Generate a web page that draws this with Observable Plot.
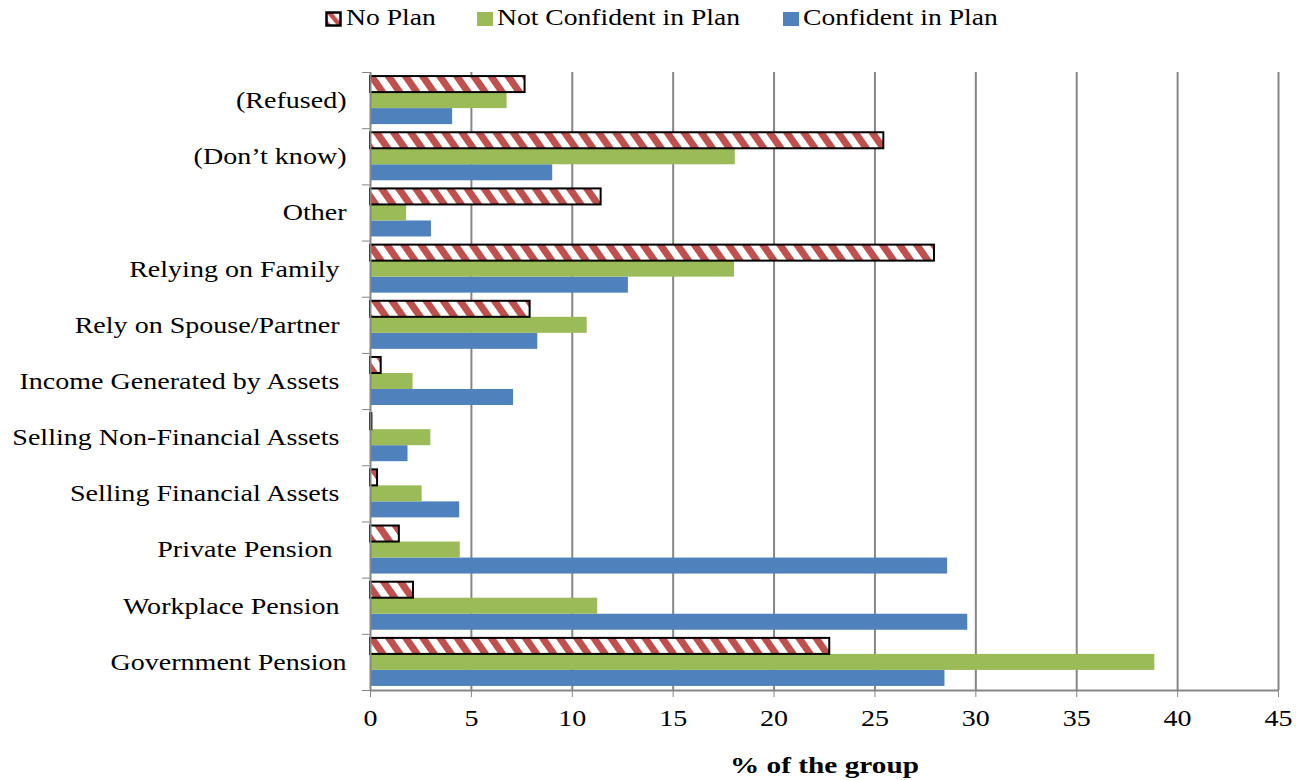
<!DOCTYPE html>
<html>
<head>
<meta charset="utf-8">
<script src="https://cdn.jsdelivr.net/npm/d3@7"></script>
<script src="https://cdn.jsdelivr.net/npm/@observablehq/plot@0.6"></script>
<style>
  html, body { margin: 0; padding: 0; background: #fff; }
  body { width: 1306px; height: 780px; overflow: hidden; font-family: "Liberation Serif", "Times New Roman", serif; position: relative; }
  #legend { position: relative; height: 40px; font-size: 23px; color: #000; }
  #legend .sw { position: absolute; top: 11px; }
  #legend .lab { position: absolute; top: 4px; line-height: 28px; transform: scaleX(1.2); transform-origin: left center; white-space: pre; }
  #chart svg text { white-space: pre; }
</style>
</head>
<body>
<div id="legend"></div>
<div id="chart"></div>
<script>
// Categories listed bottom to top (trailing spaces as in the original labels)
const categories = [
  "Government Pension",
  "Workplace Pension ",
  "Private Pension  ",
  "Selling Financial Assets ",
  "Selling Non-Financial Assets ",
  "Income Generated by Assets ",
  "Rely on Spouse/Partner ",
  "Relying on Family ",
  "Other",
  "(Don’t know)",
  "(Refused)"
];
const seriesNames = ["No Plan", "Not Confident in Plan", "Confident in Plan"];
const noPlan        = [22.76, 2.13, 1.43, 0.35, 0.07, 0.53, 7.91, 27.95, 11.43, 25.44, 7.66];
const notConfident  = [38.87, 11.26, 4.45, 2.56, 2.99, 2.11, 10.74, 18.04, 1.79, 18.08, 6.77];
const confident     = [28.47, 29.60, 28.60, 4.42, 1.86, 7.09, 8.29, 12.78, 3.02, 9.03, 4.07];
const xTicks = [0, 5, 10, 15, 20, 25, 30, 35, 40, 45];
const axisTitle = "% of the group";

const colors = {"No Plan": "url(#hatch)", "Not Confident in Plan": "#9BBB59", "Confident in Plan": "#4F81BD"};
const seriesValues = [noPlan, notConfident, confident];

// Layout within each category band (band = 1 unit on the y scale)
const barH = 0.285;
const pad = (1 - 3 * barH) / 2;
const rows = [];
categories.forEach((c, i) => {
  seriesNames.forEach((s, j) => {
    const top = i + 1 - pad - j * barH;
    rows.push({cat: c, series: s, value: seriesValues[j][i], y1: top - barH, y2: top});
  });
});

const font = "'Liberation Serif', 'Times New Roman', serif";
const gray = "#868686";
const stretch = 1.22;

const plot = Plot.plot({
  width: 1306,
  height: 740,
  marginTop: 32,
  marginBottom: 90,
  marginLeft: 370,
  marginRight: 28,
  style: {fontFamily: font, fontSize: "23px", color: "#000", background: "#fff"},
  x: {domain: [0, 45], label: null},
  y: {domain: [0, categories.length], label: null},
  marks: [
    Plot.gridX(xTicks.slice(1), {stroke: gray, strokeOpacity: 1, strokeWidth: 2}),
    Plot.rect(rows.filter(d => d.series === "Confident in Plan"), {x1: 0, x2: "value", y1: "y1", y2: "y2", fill: colors["Confident in Plan"]}),
    Plot.rect(rows.filter(d => d.series === "Not Confident in Plan"), {x1: 0, x2: "value", y1: "y1", y2: "y2", fill: colors["Not Confident in Plan"]}),
    Plot.rect(rows.filter(d => d.series === "No Plan"), {x1: 0, x2: "value", y1: "y1", y2: "y2", fill: colors["No Plan"], stroke: "#000", strokeWidth: 2}),
    Plot.ruleX([0], {stroke: gray, strokeWidth: 2}),
    Plot.ruleY([0], {stroke: gray, strokeWidth: 2}),
    Plot.axisX({ticks: xTicks, tickSize: 7, tickPadding: 12, stroke: gray, fill: "#000", fontSize: 23, label: null, tickFormat: d => String(d)}),
    Plot.axisY({ticks: d3.range(0, categories.length + 1), tickSize: 8, tickFormat: () => "", stroke: gray, label: null}),
    Plot.axisY({ticks: d3.range(categories.length).map(i => i + 0.5), tickSize: 0, tickPadding: 24, tickFormat: v => categories[Math.floor(v)], fill: "#000", fontSize: 23, label: null}),
    Plot.text([axisTitle], {frameAnchor: "bottom", dy: 75, lineAnchor: "middle", fontWeight: "bold", fontSize: 24, fill: "#000"})
  ]
});

const defs = `<defs>
  <pattern id="hatch" patternUnits="userSpaceOnUse" width="14" height="14" patternTransform="rotate(-35)">
    <rect width="14" height="14" fill="#fff"></rect>
    <rect width="7" height="14" fill="#C0504D"></rect>
  </pattern>
</defs>`;
plot.insertAdjacentHTML("afterbegin", defs);

// Horizontal stretch of the text, as in the reference rendering
plot.querySelectorAll("text").forEach(t => {
  const tr = t.getAttribute("transform");
  if (tr) {
    t.setAttribute("transform", tr + ` scale(${stretch},1)`);
  } else {
    const x = +(t.getAttribute("x") || 0), y = +(t.getAttribute("y") || 0);
    t.removeAttribute("x"); t.removeAttribute("y");
    t.setAttribute("transform", `translate(${x},${y}) scale(${stretch},1)`);
  }
});
document.getElementById("chart").appendChild(plot);

// Legend
const legend = document.getElementById("legend");
const legendPos = [[325, 346], [477, 497], [783, 803]];
seriesNames.forEach((s, k) => {
  const [sx, tx] = legendPos[k];
  let sw;
  if (s === "No Plan") {
    sw = `<svg class="sw" style="left:${sx}px" width="17" height="16"><defs><pattern id="lh" patternUnits="userSpaceOnUse" width="9" height="9" patternTransform="rotate(-40)"><rect width="9" height="9" fill="#fff"/><rect width="4.5" height="9" fill="#C0504D"/></pattern></defs><rect x="1.5" y="1.5" width="14" height="13" fill="url(#lh)" stroke="#000" stroke-width="2.5"/></svg>`;
  } else {
    sw = `<svg class="sw" style="left:${sx}px" width="16" height="16"><rect x="0" y="1" width="16" height="14" fill="${colors[s]}"/></svg>`;
  }
  legend.insertAdjacentHTML("beforeend", sw + `<span class="lab" style="left:${tx}px">${s}</span>`);
});
</script>
</body>
</html>
